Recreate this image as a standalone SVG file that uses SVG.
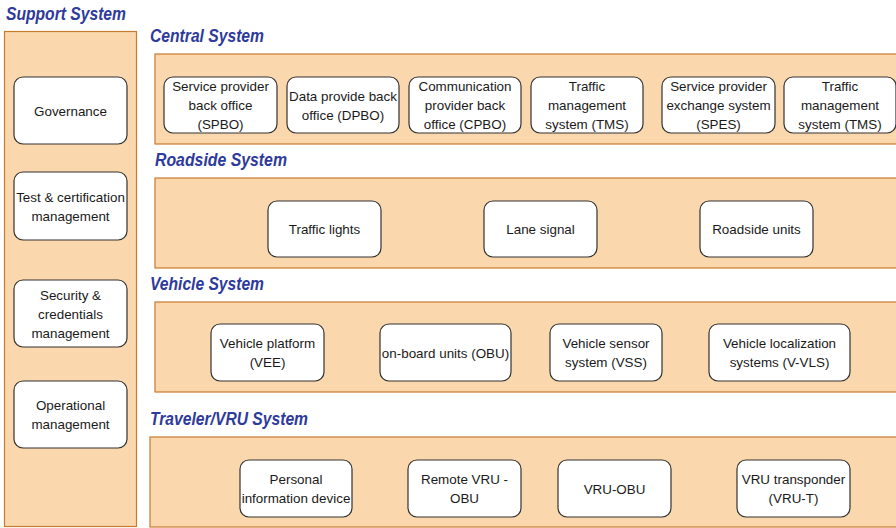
<svg xmlns="http://www.w3.org/2000/svg" width="896" height="528" viewBox="0 0 896 528">
<style>
.panel{fill:#fad7ac;stroke:#c87a2e;stroke-width:1.2}
.node{fill:#fff;stroke:#333;stroke-width:1.2}
.t{font-family:"Liberation Sans",Arial,sans-serif;font-size:13.4px;fill:#1a1a1a;text-anchor:middle}
.title{font-family:"Liberation Sans",Arial,sans-serif;font-size:17.5px;font-weight:bold;font-style:italic;fill:#2e3a9c}
</style>
<rect width="896" height="528" fill="#fff"/>
<g id="support-system">
<text class="title" x="6" y="20" textLength="120" lengthAdjust="spacingAndGlyphs">Support System</text>
<rect class="panel" x="4.5" y="31.5" width="132" height="495"/>
</g>
<g id="central-system">
<text class="title" x="150" y="42" textLength="114" lengthAdjust="spacingAndGlyphs">Central System</text>
<rect class="panel" x="155" y="54" width="745" height="90"/>
</g>
<g id="roadside-system">
<text class="title" x="155" y="166" textLength="132" lengthAdjust="spacingAndGlyphs">Roadside System</text>
<rect class="panel" x="155" y="178" width="745" height="90"/>
</g>
<g id="vehicle-system">
<text class="title" x="150" y="290" textLength="114" lengthAdjust="spacingAndGlyphs">Vehicle System</text>
<rect class="panel" x="155" y="302" width="745" height="90"/>
</g>
<g id="traveler-system">
<text class="title" x="150" y="425" textLength="158" lengthAdjust="spacingAndGlyphs">Traveler/VRU System</text>
<rect class="panel" x="150" y="437" width="750" height="90"/>
</g>
<g id="connectors"></g>
<g id="governance"><rect class="node" x="14" y="77" width="113" height="67" rx="9"/><text class="t" x="70.5" y="115.5">Governance</text></g>
<g id="test-cert"><rect class="node" x="14" y="172" width="113" height="68" rx="9"/><text class="t" x="70.5" y="201.5">Test &amp; certification</text><text class="t" x="70.5" y="220.5">management</text></g>
<g id="security"><rect class="node" x="14" y="280" width="113" height="67" rx="9"/><text class="t" x="70.5" y="299.5">Security &amp;</text><text class="t" x="70.5" y="318.5">credentials</text><text class="t" x="70.5" y="337.5">management</text></g>
<g id="operational"><rect class="node" x="14" y="381" width="113" height="67" rx="9"/><text class="t" x="70.5" y="410">Operational</text><text class="t" x="70.5" y="429">management</text></g>

<g id="spbo"><rect class="node" x="164" y="77" width="113" height="56" rx="9"/><text class="t" x="220.5" y="91">Service provider</text><text class="t" x="220.5" y="110">back office</text><text class="t" x="220.5" y="129">(SPBO)</text></g>
<g id="dpbo"><rect class="node" x="287" y="77" width="112" height="56" rx="9"/><text class="t" x="343" y="100.5">Data provide back</text><text class="t" x="343" y="119.5">office (DPBO)</text></g>
<g id="cpbo"><rect class="node" x="409" y="77" width="112" height="56" rx="9"/><text class="t" x="465" y="91">Communication</text><text class="t" x="465" y="110">provider back</text><text class="t" x="465" y="129">office (CPBO)</text></g>
<g id="tms1"><rect class="node" x="531" y="77" width="112" height="56" rx="9"/><text class="t" x="587" y="91">Traffic</text><text class="t" x="587" y="110">management</text><text class="t" x="587" y="129">system (TMS)</text></g>
<g id="spes"><rect class="node" x="662" y="77" width="113" height="56" rx="9"/><text class="t" x="718.5" y="91">Service provider</text><text class="t" x="718.5" y="110">exchange system</text><text class="t" x="718.5" y="129">(SPES)</text></g>
<g id="tms2"><rect class="node" x="784" y="77" width="112" height="56" rx="9"/><text class="t" x="840" y="91">Traffic</text><text class="t" x="840" y="110">management</text><text class="t" x="840" y="129">system (TMS)</text></g>

<g id="traffic-lights"><rect class="node" x="268" y="201" width="113" height="56" rx="9"/><text class="t" x="324.5" y="234">Traffic lights</text></g>
<g id="lane-signal"><rect class="node" x="484" y="201" width="113" height="56" rx="9"/><text class="t" x="540.5" y="234">Lane signal</text></g>
<g id="roadside-units"><rect class="node" x="700" y="201" width="113" height="56" rx="9"/><text class="t" x="756.5" y="234">Roadside units</text></g>

<g id="vee"><rect class="node" x="211" y="324" width="113" height="57" rx="9"/><text class="t" x="267.5" y="348">Vehicle platform</text><text class="t" x="267.5" y="367">(VEE)</text></g>
<g id="obu"><rect class="node" x="380" y="324" width="131" height="57" rx="9"/><text class="t" x="445.5" y="357.5">on-board units (OBU)</text></g>
<g id="vss"><rect class="node" x="550" y="324" width="112" height="57" rx="9"/><text class="t" x="606" y="348">Vehicle sensor</text><text class="t" x="606" y="367">system (VSS)</text></g>
<g id="vvls"><rect class="node" x="709" y="324" width="141" height="57" rx="9"/><text class="t" x="779.5" y="348">Vehicle localization</text><text class="t" x="779.5" y="367">systems (V-VLS)</text></g>

<g id="pid"><rect class="node" x="240" y="460" width="112" height="57" rx="9"/><text class="t" x="296" y="484">Personal</text><text class="t" x="296" y="503">information device</text></g>
<g id="remote-vru"><rect class="node" x="408" y="460" width="113" height="57" rx="9"/><text class="t" x="464.5" y="484">Remote VRU -</text><text class="t" x="464.5" y="503">OBU</text></g>
<g id="vru-obu"><rect class="node" x="558" y="460" width="113" height="57" rx="9"/><text class="t" x="614.5" y="493.5">VRU-OBU</text></g>
<g id="vru-t"><rect class="node" x="737" y="460" width="113" height="57" rx="9"/><text class="t" x="793.5" y="484">VRU transponder</text><text class="t" x="793.5" y="503">(VRU-T)</text></g>
</svg>
